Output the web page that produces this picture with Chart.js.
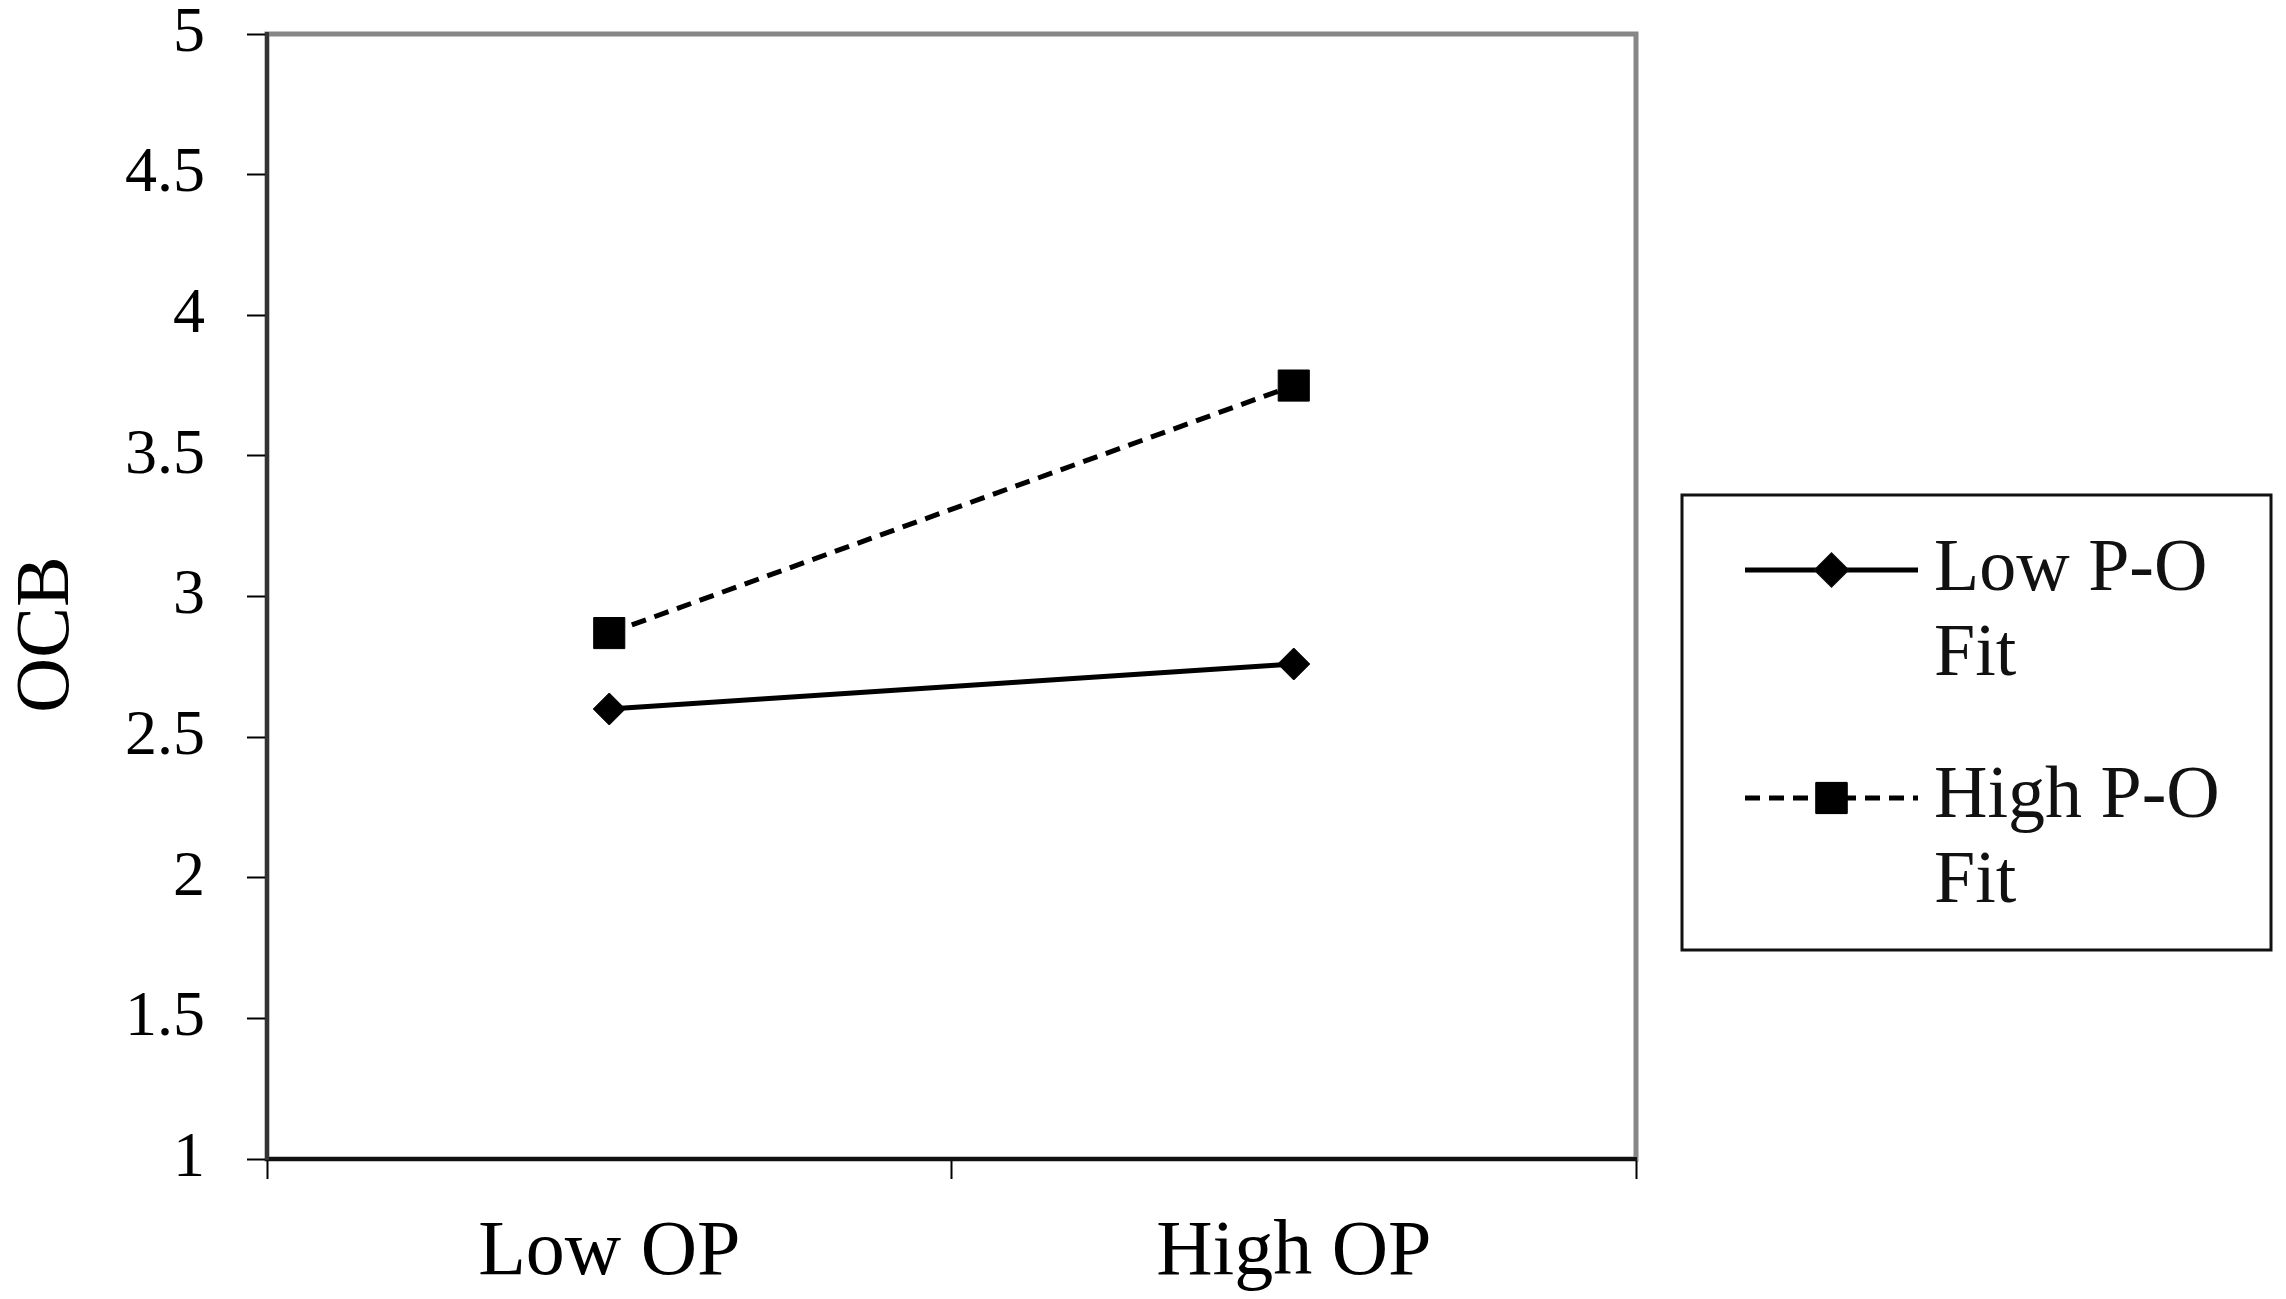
<!DOCTYPE html>
<html>
<head>
<meta charset="utf-8">
<title>OCB by OP and P-O Fit</title>
<script src="https://cdn.jsdelivr.net/npm/chart.js@4.4.1/dist/chart.umd.min.js"></script>
<style>
  html, body { margin: 0; padding: 0; background: #fff; }
  #wrap { width: 2286px; height: 1299px; }
</style>
</head>
<body>
<div id="wrap"><canvas id="lineChart"></canvas></div>
<script>
const categories = ['Low OP', 'High OP'];
const seriesNames = ['Low P-O Fit', 'High P-O Fit'];
const lowFitValues = [2.60, 2.76];
const highFitValues = [2.87, 3.75];
const yMin = 1;
const yMax = 5;
const yStep = 0.5;
const yTitle = 'OCB';

const serif = "'Liberation Serif', 'Times New Roman', serif";

// gray frame round the plot area, drawn before the axes so they sit on top
const plotFrame = {
  id: 'plotFrame',
  beforeDraw(chart) {
    const { ctx, chartArea } = chart;
    ctx.save();
    ctx.strokeStyle = '#878787';
    ctx.lineWidth = 5;
    ctx.strokeRect(chartArea.left, chartArea.top, chartArea.right - chartArea.left, chartArea.bottom - chartArea.top);
    ctx.restore();
  }
};

function wrapWords(ctx, text, maxWidth) {
  const words = text.split(' ');
  const lines = [];
  let line = '';
  words.forEach(word => {
    const test = line ? line + ' ' + word : word;
    if (line && ctx.measureText(test).width > maxWidth) {
      lines.push(line);
      line = word;
    } else {
      line = test;
    }
  });
  if (line) lines.push(line);
  return lines;
}

// boxed legend on the right with wrapped labels
const boxLegend = {
  id: 'boxLegend',
  afterDraw(chart) {
    const { ctx, chartArea } = chart;
    const boxLeft = chartArea.right + 46;
    const boxTop = 495;
    const boxWidth = 589;
    const boxHeight = 455;

    ctx.save();
    ctx.strokeStyle = '#111';
    ctx.lineWidth = 3;
    ctx.strokeRect(boxLeft, boxTop, boxWidth, boxHeight);

    ctx.font = '74px ' + serif;
    ctx.textBaseline = 'alphabetic';
    ctx.textAlign = 'left';

    chart.data.datasets.forEach((ds, i) => {
      const symY = boxTop + 75 + i * 228;
      const x1 = boxLeft + 63;
      const x2 = boxLeft + 236;

      ctx.save();
      ctx.strokeStyle = ds.borderColor;
      ctx.lineWidth = ds.borderWidth;
      ctx.setLineDash(ds.borderDash || []);
      ctx.beginPath();
      ctx.moveTo(x1, symY);
      ctx.lineTo(x2, symY);
      ctx.stroke();
      ctx.restore();

      Chart.helpers.drawPoint(ctx, {
        pointStyle: ds.pointStyle,
        radius: ds.pointRadius,
        borderWidth: ds.pointBorderWidth,
        rotation: 0
      }, (x1 + x2) / 2, symY);
      ctx.fillStyle = ds.pointBackgroundColor;
      ctx.strokeStyle = ds.pointBorderColor;
      ctx.lineWidth = ds.pointBorderWidth;
      ctx.fill();
      ctx.stroke();

      ctx.fillStyle = '#111';
      const lines = wrapWords(ctx, ds.label, 320);
      lines.forEach((ln, j) => {
        ctx.fillText(ln, boxLeft + 252, boxTop + 95 + i * 227 + j * 85);
      });
    });
    ctx.restore();
  }
};

const ctx = document.getElementById('lineChart').getContext('2d');

new Chart(ctx, {
  type: 'line',
  data: {
    labels: categories,
    datasets: [
      {
        label: seriesNames[0],
        data: lowFitValues,
        borderColor: '#000',
        borderWidth: 5,
        pointStyle: 'rectRot',
        pointRadius: 16,
        pointBorderWidth: 1,
        pointBackgroundColor: '#000',
        pointBorderColor: '#000',
        tension: 0
      },
      {
        label: seriesNames[1],
        data: highFitValues,
        borderColor: '#000',
        borderWidth: 5,
        borderDash: [15, 9],
        pointStyle: 'rect',
        pointRadius: 22,
        pointBorderWidth: 1,
        pointBackgroundColor: '#000',
        pointBorderColor: '#000',
        tension: 0
      }
    ]
  },
  options: {
    responsive: true,
    maintainAspectRatio: false,
    devicePixelRatio: 1,
    animation: false,
    layout: {
      padding: { top: 34, right: 650, bottom: 0, left: 0 }
    },
    plugins: {
      legend: { display: false },
      tooltip: { enabled: false }
    },
    scales: {
      x: {
        offset: true,
        grid: {
          offset: true,
          drawOnChartArea: false,
          drawTicks: true,
          tickLength: 20,
          tickWidth: 2,
          tickColor: '#000'
        },
        border: { color: '#111', width: 4 },
        ticks: {
          color: '#000',
          padding: 28,
          font: { family: serif, size: 78 }
        },
        afterFit(scale) {
          scale.height = 140;
          scale.paddingLeft = 0;
          scale.paddingRight = 0;
        }
      },
      y: {
        min: yMin,
        max: yMax,
        grid: {
          drawOnChartArea: false,
          drawTicks: true,
          tickLength: 20,
          tickWidth: 2,
          tickColor: '#000'
        },
        border: { color: '#333', width: 4 },
        ticks: {
          stepSize: yStep,
          color: '#000',
          padding: 42,
          font: { family: serif, size: 64 },
          callback: value => String(value)
        },
        title: {
          display: true,
          text: yTitle.padEnd(yTitle.length + 4, ' '),
          color: '#000',
          padding: { top: 2, bottom: 0 },
          font: { family: serif, size: 76 }
        },
        afterFit(scale) {
          scale.width = 267;
          scale.paddingTop = 0;
          scale.paddingBottom = 0;
        }
      }
    }
  },
  plugins: [plotFrame, boxLegend]
});
</script>
</body>
</html>
